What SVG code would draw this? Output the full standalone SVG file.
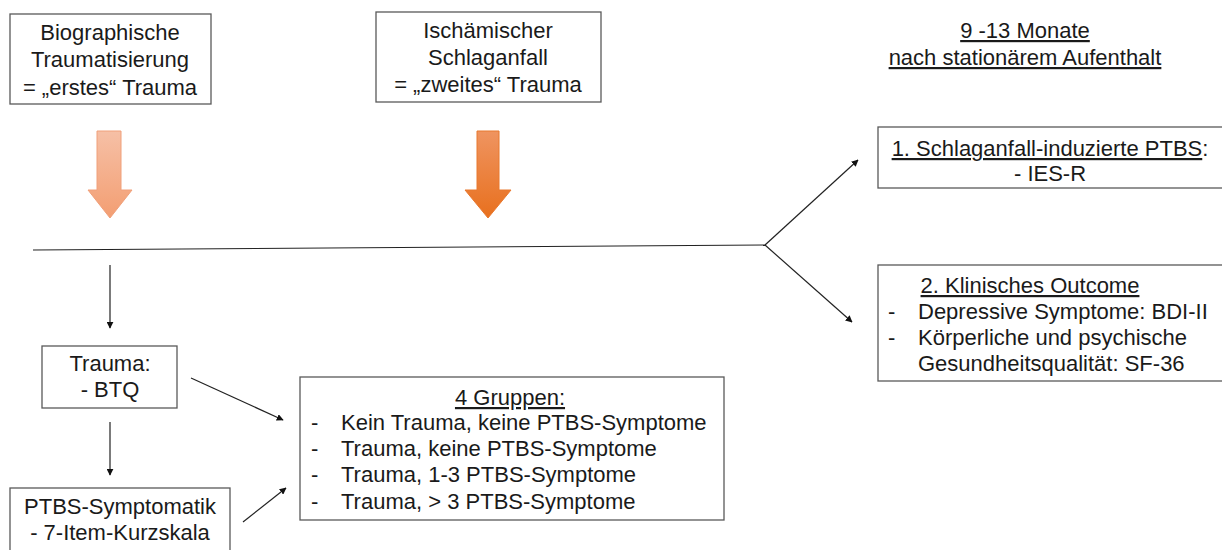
<svg xmlns="http://www.w3.org/2000/svg" width="1222" height="550" viewBox="0 0 1222 550">
<style>
text{font-family:"Liberation Sans",Arial,sans-serif;font-size:22px;fill:#1a1a1a}
.c{text-anchor:middle}
.u{text-decoration:underline}
.box{fill:#fff;stroke:#595959;stroke-width:1.3}
.ln{stroke:#222;stroke-width:1.2;fill:none}
</style>
<defs>
<linearGradient id="g1" x1="0" y1="0" x2="0" y2="1"><stop offset="0" stop-color="#f6c0a6"/><stop offset="1" stop-color="#f39e72"/></linearGradient>
<linearGradient id="g2" x1="0" y1="0" x2="0" y2="1"><stop offset="0" stop-color="#ef9460"/><stop offset="1" stop-color="#e8701e"/></linearGradient>
<marker id="ah" viewBox="0 0 10 10" refX="9" refY="5" markerWidth="7" markerHeight="7" orient="auto-start-reverse" markerUnits="userSpaceOnUse"><path d="M0,0 L10,5 L0,10 z" fill="#111"/></marker>
</defs>
<g id="connectors">
<path class="ln" d="M33,250 L765,245"/>
<path class="ln" d="M765,245 L858,160" marker-end="url(#ah)"/>
<path class="ln" d="M765,245 L852,322" marker-end="url(#ah)"/>
<path class="ln" d="M110,265 L110,328" marker-end="url(#ah)"/>
<path class="ln" d="M110,422 L110,475" marker-end="url(#ah)"/>
<path class="ln" d="M191,378 L283,420" marker-end="url(#ah)"/>
<path class="ln" d="M243,522 L286,488" marker-end="url(#ah)"/>
</g>
<g id="arrow1"><path d="M97,131 H121 V190 H132 L110,218 L88,190 H97 Z" fill="url(#g1)" stroke="#f0a07a" stroke-width="1"/></g>
<g id="arrow2"><path d="M477,131 H499 V190 H511 L488,218 L465,190 H477 Z" fill="url(#g2)" stroke="#e8782e" stroke-width="1"/></g>
<g id="n-bio"><rect class="box" x="10" y="14" width="201" height="90"/>
<text class="c" x="110" y="40">Biographische</text><text class="c" x="110" y="67">Traumatisierung</text><text class="c" x="110" y="95">= „erstes“ Trauma</text></g>
<g id="n-stroke"><rect class="box" x="376" y="12" width="225" height="90"/>
<text class="c" x="488" y="38">Ischämischer</text><text class="c" x="488" y="65">Schlaganfall</text><text class="c" x="488" y="92">= „zweites“ Trauma</text></g>
<g id="n-time"><text class="c u" x="1025" y="38">9 -13 Monate</text><text class="c u" x="1025" y="65">nach stationärem Aufenthalt</text></g>
<g id="n-ptbs"><rect class="box" x="878" y="127" width="350" height="61"/>
<text class="c" x="1050" y="156"><tspan class="u">1. Schlaganfall-induzierte PTBS</tspan>:</text><text class="c" x="1050" y="181">- IES-R</text></g>
<g id="n-outcome"><rect class="box" x="878" y="265" width="350" height="116"/>
<text class="c u" x="1030" y="293">2. Klinisches Outcome</text>
<text x="888" y="319">-</text><text x="918" y="319">Depressive Symptome: BDI-II</text>
<text x="888" y="345">-</text><text x="918" y="345">Körperliche und psychische</text>
<text x="918" y="371">Gesundheitsqualität: SF-36</text></g>
<g id="n-trauma"><rect class="box" x="42" y="346" width="135" height="62"/>
<text class="c" x="110" y="371">Trauma:</text><text class="c" x="110" y="397">- BTQ</text></g>
<g id="n-symp"><rect class="box" x="10" y="488" width="220" height="70"/>
<text class="c" x="120" y="514">PTBS-Symptomatik</text><text class="c" x="120" y="540">- 7-Item-Kurzskala</text></g>
<g id="n-groups"><rect class="box" x="300" y="377" width="424" height="143"/>
<text class="c u" x="510" y="405">4 Gruppen:</text>
<text x="311" y="430">-</text><text x="341" y="430">Kein Trauma, keine PTBS-Symptome</text>
<text x="311" y="456">-</text><text x="341" y="456">Trauma, keine PTBS-Symptome</text>
<text x="311" y="482">-</text><text x="341" y="482">Trauma, 1-3 PTBS-Symptome</text>
<text x="311" y="509">-</text><text x="341" y="509">Trauma, &gt; 3 PTBS-Symptome</text></g>
</svg>
